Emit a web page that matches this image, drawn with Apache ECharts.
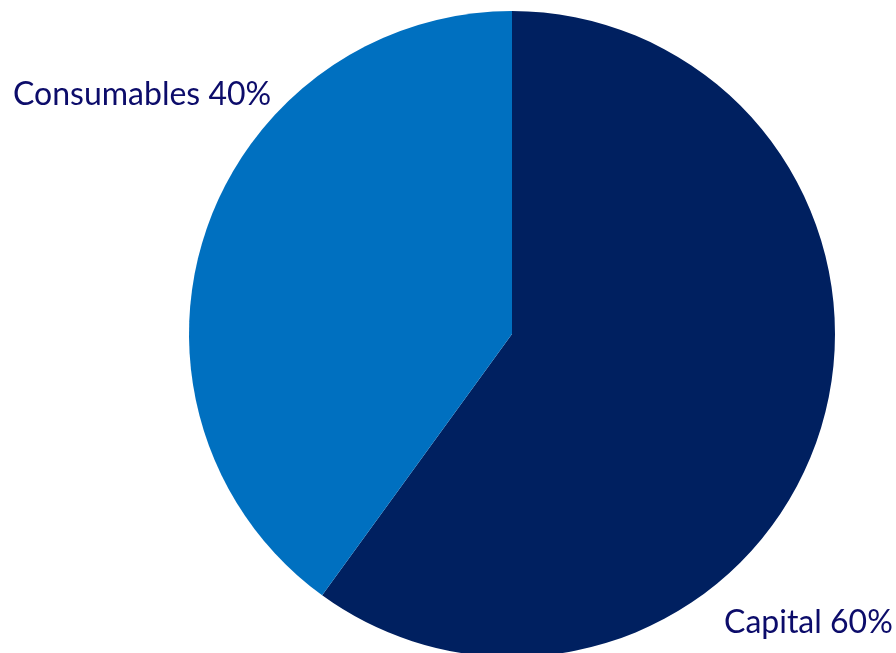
<!DOCTYPE html>
<html>
<head>
<meta charset="utf-8">
<script src="https://cdn.jsdelivr.net/npm/echarts@6/dist/echarts.min.js"></script>
<style>
html,body{margin:0;padding:0;background:#fff;}
#chart{width:896px;height:653px;}
</style>
</head>
<body>
<div id="chart"></div>
<script>
// 数据
var categories = ['Capital', 'Consumables'];
var values = [60, 40];
var colors = ['#002060', '#0070C0'];
// 标签位置（左端，垂直居中）
var labelPos = [[724, 623], [13, 95]];

var chart = echarts.init(document.getElementById('chart'));

var data = categories.map(function(name, i){
	return {
		name: name,
		value: values[i],
		itemStyle: {color: colors[i]}
	};
});

var option = {
	animation: false,
	series: [{
		type: 'pie',
		center: [512, 334],
		radius: [0, 323],
		startAngle: 90,
		clockwise: true,
		avoidLabelOverlap: false,
		data: data,
		label: {
			show: true,
			position: 'outside',
			formatter: '{b} {c}%',
			color: '#0C0C6A',
			fontFamily: 'Lato',
			fontSize: 32,
			overflow: 'none'
		},
		labelLine: {show: false},
		labelLayout: function(params){
			var p = labelPos[params.dataIndex];
			return {x: p[0], y: p[1], align: 'left', verticalAlign: 'middle', hideOverlap: false, width: 400};
		}
	}]
};
chart.setOption(option);
</script>
</body>
</html>
